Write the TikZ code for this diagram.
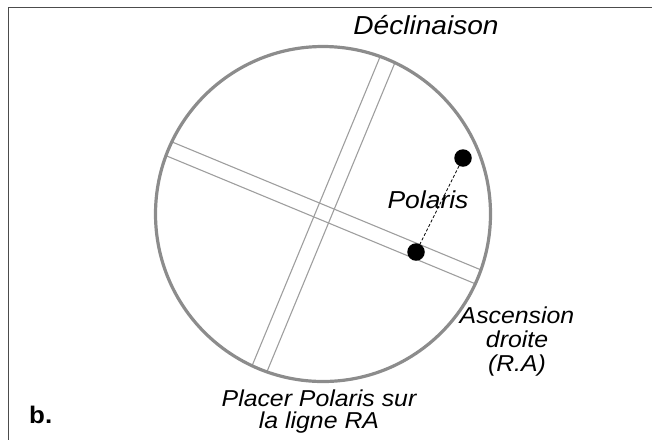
\documentclass[tikz,border=0pt]{standalone}
\usepackage{fontspec}
\setmainfont{Liberation Sans}[FakeStretch=1.08]
\usepackage{tikz}
\usetikzlibrary{positioning}

\begin{document}
\begin{tikzpicture}[
  x=1pt, y=-1pt,
  dot/.style={circle, fill, inner sep=0pt, minimum size=17.5pt},
  lbl/.style={font=\fontsize{23}{24}\selectfont\itshape, inner sep=0pt},
  band/.style={draw=black!38, line width=1.1pt},
  rim/.style={draw=black!45, line width=3.2pt}
]
  \useasboundingbox (0,0) rectangle (652,440);
  \draw[black!70, line width=1.5pt] (652,7.5) -- (8.5,7.5) -- (8.5,440);

  \begin{scope}
    \clip (323,214) circle[radius=167.5];
    \begin{scope}[shift={(324,213)}, rotate=-22.5]
      \draw[band] (-200,-7.5) -- (200,-7.5) (-200,7.5) -- (200,7.5);
      \draw[band] (-8,-200) -- (-8,200) (8,-200) -- (8,200);
    \end{scope}
  \end{scope}
  \draw[rim] (323,214) circle[radius=167.5];

  \node[dot] (polaris) at (463,158) {};
  \node[dot] (target) at (416,252) {};
  \draw[densely dashed, line width=0.8pt] (polaris) -- (target);

  \node[lbl, font=\fontsize{26}{26}\selectfont\itshape, anchor=base] (decl) at (426,34) {Déclinaison};
  \node[lbl, font=\fontsize{24.5}{24}\selectfont\itshape, anchor=base] (name) at (428,208) {Polaris};
  \node[lbl, anchor=north, align=center] (ra) at (517,307) {Ascension\\droite\\(R.A)};
  \node[lbl, font=\fontsize{23}{22}\selectfont\itshape, anchor=north, align=center] (hint) at (319,390) {Placer Polaris sur\\la ligne RA};
  \node[font=\fontsize{24}{24}\selectfont\bfseries, anchor=base west, inner sep=0pt] (tag) at (29,423) {b.};
\end{tikzpicture}
\end{document}
